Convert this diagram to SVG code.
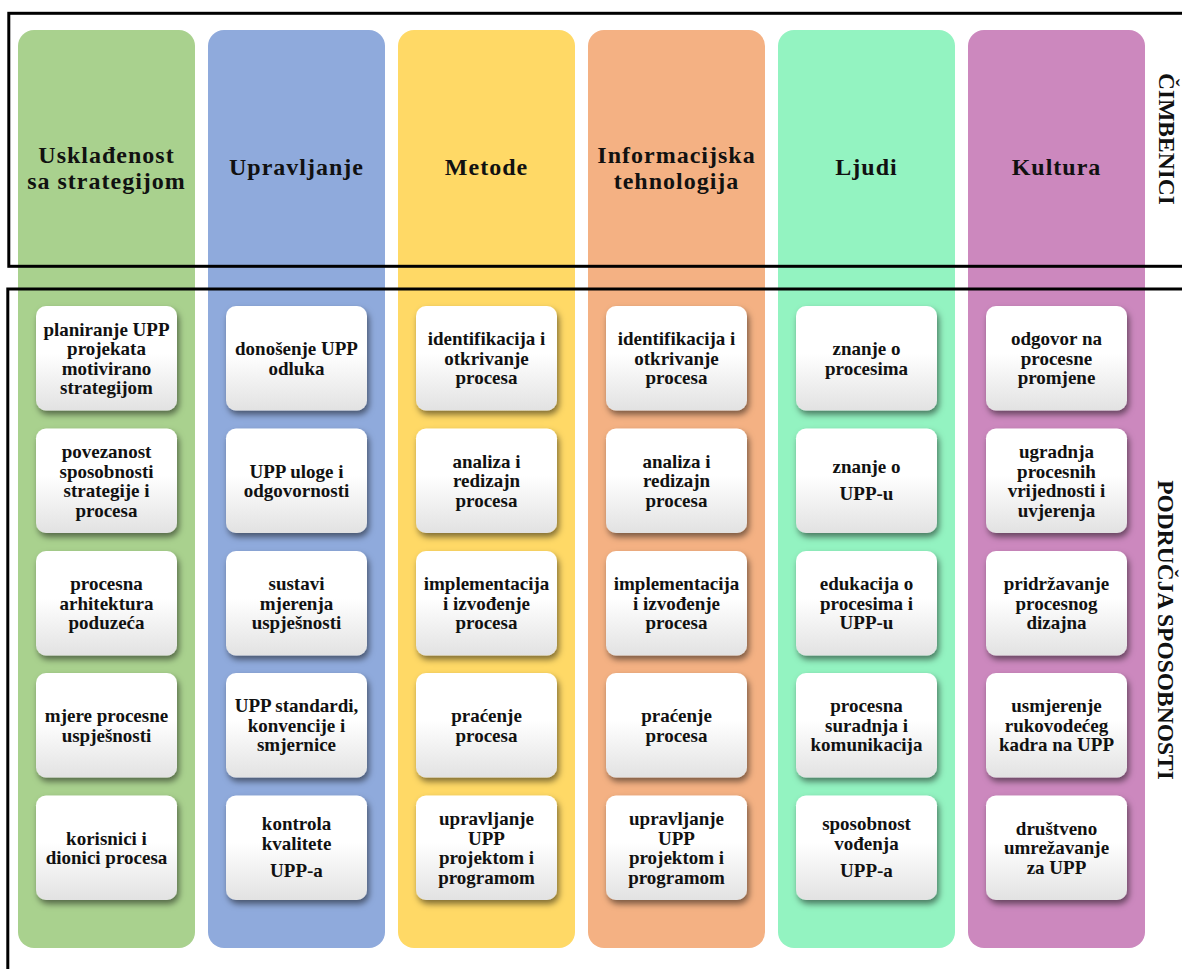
<svg xmlns="http://www.w3.org/2000/svg" width="1182" height="969" viewBox="0 0 1182 969">
<defs>
<linearGradient id="boxg" x1="0" y1="0" x2="0" y2="1">
<stop offset="0" stop-color="#ffffff"/>
<stop offset="0.45" stop-color="#ffffff"/>
<stop offset="1" stop-color="#e2e2e2"/>
</linearGradient>
<filter id="sh" x="-20%" y="-20%" width="140%" height="150%">
<feDropShadow dx="2" dy="4" stdDeviation="3" flood-color="#000" flood-opacity="0.5"/>
</filter>
</defs>
<style>
.col{stroke:none}
.box{fill:url(#boxg);filter:url(#sh)}
.hd{font-family:"Liberation Serif","Times New Roman",serif;font-weight:bold;font-size:24px;letter-spacing:1px;fill:#111;text-anchor:middle}
.bt{font-family:"Liberation Serif","Times New Roman",serif;font-weight:bold;font-size:19px;fill:#111;text-anchor:middle}
.side{font-family:"Liberation Serif","Times New Roman",serif;font-weight:bold;font-size:23.5px;fill:#111;text-anchor:middle}
.frame{fill:none;stroke:#000;stroke-width:3}
</style>
<rect width="1182" height="969" fill="#fff"/>

<g id="col-strategija">
<rect class="col" x="18" y="30" width="177" height="918" rx="16" fill="#A9D18E"/>
<text class="hd"><tspan x="106.5" y="163">Usklađenost</tspan><tspan x="106.5" y="189">sa strategijom</tspan></text>
</g>
<g id="col-upravljanje">
<rect class="col" x="208" y="30" width="177" height="918" rx="16" fill="#8FAADC"/>
<text class="hd" x="296.5" y="175">Upravljanje</text>
</g>
<g id="col-metode">
<rect class="col" x="398" y="30" width="177" height="918" rx="16" fill="#FFD966"/>
<text class="hd" x="486.5" y="175">Metode</text>
</g>
<g id="col-it">
<rect class="col" x="588" y="30" width="177" height="918" rx="16" fill="#F4B183"/>
<text class="hd"><tspan x="676.5" y="163">Informacijska</tspan><tspan x="676.5" y="189">tehnologija</tspan></text>
</g>
<g id="col-ljudi">
<rect class="col" x="778" y="30" width="177" height="918" rx="16" fill="#93F3C1"/>
<text class="hd" x="866.5" y="175">Ljudi</text>
</g>
<g id="col-kultura">
<rect class="col" x="968" y="30" width="177" height="918" rx="16" fill="#CC88BE"/>
<text class="hd" x="1056.5" y="175">Kultura</text>
</g>

<!-- column 0 -->
<g id="b00"><rect class="box" x="36" y="306" width="141" height="104.5" rx="10"/>
<text class="bt"><tspan x="106.5" y="335.5">planiranje UPP</tspan><tspan x="106.5" y="355">projekata</tspan><tspan x="106.5" y="374.5">motivirano</tspan><tspan x="106.5" y="394">strategijom</tspan></text></g>
<g id="b01"><rect class="box" x="36" y="428.5" width="141" height="104.5" rx="10"/>
<text class="bt"><tspan x="106.5" y="458">povezanost</tspan><tspan x="106.5" y="477.5">sposobnosti</tspan><tspan x="106.5" y="497">strategije i</tspan><tspan x="106.5" y="516.5">procesa</tspan></text></g>
<g id="b02"><rect class="box" x="36" y="551" width="141" height="104.5" rx="10"/>
<text class="bt"><tspan x="106.5" y="590.25">procesna</tspan><tspan x="106.5" y="609.75">arhitektura</tspan><tspan x="106.5" y="629.25">poduzeća</tspan></text></g>
<g id="b03"><rect class="box" x="36" y="673" width="141" height="104.5" rx="10"/>
<text class="bt"><tspan x="106.5" y="722">mjere procesne</tspan><tspan x="106.5" y="741.5">uspješnosti</tspan></text></g>
<g id="b04"><rect class="box" x="36" y="795.5" width="141" height="104.5" rx="10"/>
<text class="bt"><tspan x="106.5" y="844.5">korisnici i</tspan><tspan x="106.5" y="864">dionici procesa</tspan></text></g>

<!-- column 1 -->
<g id="b10"><rect class="box" x="226" y="306" width="141" height="104.5" rx="10"/>
<text class="bt"><tspan x="296.5" y="355">donošenje UPP</tspan><tspan x="296.5" y="374.5">odluka</tspan></text></g>
<g id="b11"><rect class="box" x="226" y="428.5" width="141" height="104.5" rx="10"/>
<text class="bt"><tspan x="296.5" y="477.5">UPP uloge i</tspan><tspan x="296.5" y="497">odgovornosti</tspan></text></g>
<g id="b12"><rect class="box" x="226" y="551" width="141" height="104.5" rx="10"/>
<text class="bt"><tspan x="296.5" y="590.25">sustavi</tspan><tspan x="296.5" y="609.75">mjerenja</tspan><tspan x="296.5" y="629.25">uspješnosti</tspan></text></g>
<g id="b13"><rect class="box" x="226" y="673" width="141" height="104.5" rx="10"/>
<text class="bt"><tspan x="296.5" y="712.25">UPP standardi,</tspan><tspan x="296.5" y="731.75">konvencije i</tspan><tspan x="296.5" y="751.25">smjernice</tspan></text></g>
<g id="b14"><rect class="box" x="226" y="795.5" width="141" height="104.5" rx="10"/>
<text class="bt"><tspan x="296.5" y="830">kontrola</tspan><tspan x="296.5" y="850">kvalitete</tspan><tspan x="296.5" y="877">UPP-a</tspan></text></g>

<!-- column 2 -->
<g id="b20"><rect class="box" x="416" y="306" width="141" height="104.5" rx="10"/>
<text class="bt"><tspan x="486.5" y="345.25">identifikacija i</tspan><tspan x="486.5" y="364.75">otkrivanje</tspan><tspan x="486.5" y="384.25">procesa</tspan></text></g>
<g id="b21"><rect class="box" x="416" y="428.5" width="141" height="104.5" rx="10"/>
<text class="bt"><tspan x="486.5" y="467.75">analiza i</tspan><tspan x="486.5" y="487.25">redizajn</tspan><tspan x="486.5" y="506.75">procesa</tspan></text></g>
<g id="b22"><rect class="box" x="416" y="551" width="141" height="104.5" rx="10"/>
<text class="bt"><tspan x="486.5" y="590.25">implementacija</tspan><tspan x="486.5" y="609.75">i izvođenje</tspan><tspan x="486.5" y="629.25">procesa</tspan></text></g>
<g id="b23"><rect class="box" x="416" y="673" width="141" height="104.5" rx="10"/>
<text class="bt"><tspan x="486.5" y="722">praćenje</tspan><tspan x="486.5" y="741.5">procesa</tspan></text></g>
<g id="b24"><rect class="box" x="416" y="795.5" width="141" height="104.5" rx="10"/>
<text class="bt"><tspan x="486.5" y="825">upravljanje</tspan><tspan x="486.5" y="844.5">UPP</tspan><tspan x="486.5" y="864">projektom i</tspan><tspan x="486.5" y="883.5">programom</tspan></text></g>

<!-- column 3 -->
<g id="b30"><rect class="box" x="606" y="306" width="141" height="104.5" rx="10"/>
<text class="bt"><tspan x="676.5" y="345.25">identifikacija i</tspan><tspan x="676.5" y="364.75">otkrivanje</tspan><tspan x="676.5" y="384.25">procesa</tspan></text></g>
<g id="b31"><rect class="box" x="606" y="428.5" width="141" height="104.5" rx="10"/>
<text class="bt"><tspan x="676.5" y="467.75">analiza i</tspan><tspan x="676.5" y="487.25">redizajn</tspan><tspan x="676.5" y="506.75">procesa</tspan></text></g>
<g id="b32"><rect class="box" x="606" y="551" width="141" height="104.5" rx="10"/>
<text class="bt"><tspan x="676.5" y="590.25">implementacija</tspan><tspan x="676.5" y="609.75">i izvođenje</tspan><tspan x="676.5" y="629.25">procesa</tspan></text></g>
<g id="b33"><rect class="box" x="606" y="673" width="141" height="104.5" rx="10"/>
<text class="bt"><tspan x="676.5" y="722">praćenje</tspan><tspan x="676.5" y="741.5">procesa</tspan></text></g>
<g id="b34"><rect class="box" x="606" y="795.5" width="141" height="104.5" rx="10"/>
<text class="bt"><tspan x="676.5" y="825">upravljanje</tspan><tspan x="676.5" y="844.5">UPP</tspan><tspan x="676.5" y="864">projektom i</tspan><tspan x="676.5" y="883.5">programom</tspan></text></g>

<!-- column 4 -->
<g id="b40"><rect class="box" x="796" y="306" width="141" height="104.5" rx="10"/>
<text class="bt"><tspan x="866.5" y="355">znanje o</tspan><tspan x="866.5" y="374.5">procesima</tspan></text></g>
<g id="b41"><rect class="box" x="796" y="428.5" width="141" height="104.5" rx="10"/>
<text class="bt"><tspan x="866.5" y="473">znanje o</tspan><tspan x="866.5" y="500">UPP-u</tspan></text></g>
<g id="b42"><rect class="box" x="796" y="551" width="141" height="104.5" rx="10"/>
<text class="bt"><tspan x="866.5" y="590.25">edukacija o</tspan><tspan x="866.5" y="609.75">procesima i</tspan><tspan x="866.5" y="629.25">UPP-u</tspan></text></g>
<g id="b43"><rect class="box" x="796" y="673" width="141" height="104.5" rx="10"/>
<text class="bt"><tspan x="866.5" y="712.25">procesna</tspan><tspan x="866.5" y="731.75">suradnja i</tspan><tspan x="866.5" y="751.25">komunikacija</tspan></text></g>
<g id="b44"><rect class="box" x="796" y="795.5" width="141" height="104.5" rx="10"/>
<text class="bt"><tspan x="866.5" y="830">sposobnost</tspan><tspan x="866.5" y="850">vođenja</tspan><tspan x="866.5" y="877">UPP-a</tspan></text></g>

<!-- column 5 -->
<g id="b50"><rect class="box" x="986" y="306" width="141" height="104.5" rx="10"/>
<text class="bt"><tspan x="1056.5" y="345.25">odgovor na</tspan><tspan x="1056.5" y="364.75">procesne</tspan><tspan x="1056.5" y="384.25">promjene</tspan></text></g>
<g id="b51"><rect class="box" x="986" y="428.5" width="141" height="104.5" rx="10"/>
<text class="bt"><tspan x="1056.5" y="458">ugradnja</tspan><tspan x="1056.5" y="477.5">procesnih</tspan><tspan x="1056.5" y="497">vrijednosti i</tspan><tspan x="1056.5" y="516.5">uvjerenja</tspan></text></g>
<g id="b52"><rect class="box" x="986" y="551" width="141" height="104.5" rx="10"/>
<text class="bt"><tspan x="1056.5" y="590.25">pridržavanje</tspan><tspan x="1056.5" y="609.75">procesnog</tspan><tspan x="1056.5" y="629.25">dizajna</tspan></text></g>
<g id="b53"><rect class="box" x="986" y="673" width="141" height="104.5" rx="10"/>
<text class="bt"><tspan x="1056.5" y="712.25">usmjerenje</tspan><tspan x="1056.5" y="731.75">rukovodećeg</tspan><tspan x="1056.5" y="751.25">kadra na UPP</tspan></text></g>
<g id="b54"><rect class="box" x="986" y="795.5" width="141" height="104.5" rx="10"/>
<text class="bt"><tspan x="1056.5" y="834.75">društveno</tspan><tspan x="1056.5" y="854.25">umrežavanje</tspan><tspan x="1056.5" y="873.75">za UPP</tspan></text></g>

<g id="frame-cimbenici">
<rect class="frame" x="8.8" y="13.3" width="1180" height="253"/>
<text class="side" x="1159" y="139" transform="rotate(90 1159 139)">ČIMBENICI</text>
</g>
<g id="frame-podrucja">
<rect class="frame" x="7.8" y="289" width="1180" height="700"/>
<text class="side" x="1158" y="630" transform="rotate(90 1158 630)">PODRUČJA SPOSOBNOSTI</text>
</g>
</svg>
